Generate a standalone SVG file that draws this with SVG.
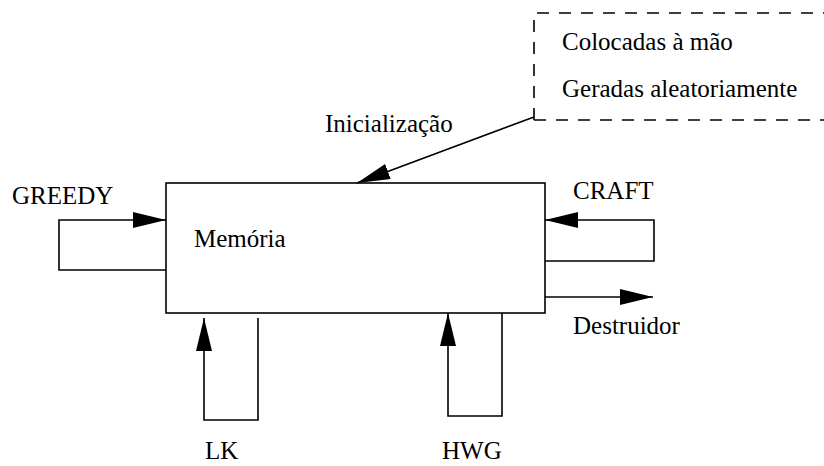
<svg xmlns="http://www.w3.org/2000/svg" width="824" height="466" viewBox="0 0 824 466">
<style>
text{font-family:"Liberation Serif","Times New Roman",serif;font-size:25px;fill:#000}
.ln{fill:none;stroke:#000;stroke-width:1.6}
.dash{fill:none;stroke:#000;stroke-width:1.6;stroke-dasharray:12 10}
</style>
<defs>
<marker id="ah" markerUnits="userSpaceOnUse" markerWidth="34" markerHeight="18" refX="33" refY="8" orient="auto">
<path d="M0,0 L33,8 L0,16 z" fill="#000"/>
</marker>
</defs>
<rect width="824" height="466" fill="#fff"/>
<g id="memoria">
<rect class="ln" x="166" y="183" width="379" height="130"/>
<text x="194" y="247">Memória</text>
</g>
<g id="init-box">
<path class="dash" d="M534,120 V13 H840 M534,120 H840"/>
<text x="562" y="50">Colocadas à mão</text>
<text x="562" y="97">Geradas aleatoriamente</text>
</g>
<g id="labels">
<text x="325" y="132">Inicialização</text>
<text x="12" y="204">GREEDY</text>
<text x="573" y="199">CRAFT</text>
<text x="573" y="334">Destruidor</text>
<text x="205" y="459">LK</text>
<text x="442" y="459">HWG</text>
</g>
<g id="connectors">
<line class="ln" x1="534" y1="117" x2="357" y2="183" marker-end="url(#ah)"/>
<polyline class="ln" points="166,270 59,270 59,220 166,220" marker-end="url(#ah)"/>
<polyline class="ln" points="545,261 654,261 654,220 545,220" marker-end="url(#ah)"/>
<line class="ln" x1="545" y1="297" x2="653" y2="297" marker-end="url(#ah)"/>
<polyline class="ln" points="258,318 258,420 204,420 204,318" marker-end="url(#ah)"/>
<polyline class="ln" points="502,313 502,416 448,416 448,313" marker-end="url(#ah)"/>
</g>
</svg>
